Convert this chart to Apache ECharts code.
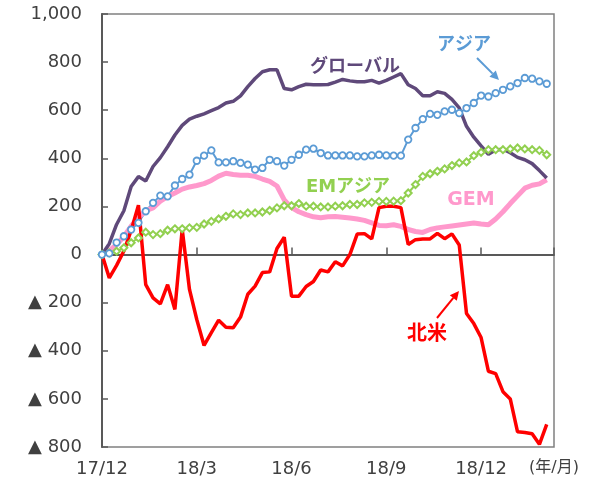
<!DOCTYPE html>
<html>
<head>
<meta charset="utf-8" />
<title>地域別 累積フロー</title>
<script src="https://cdn.jsdelivr.net/npm/echarts@6/dist/echarts.min.js"></script>
<style>
	body { margin: 0; background: #fff; }
	#main { width: 600px; height: 488px; }
</style>
</head>
<body>
<div id="main"></div>
<script type="text/javascript">
// 週次データ（17/12 起点、0 = 基準週）
var tickLabels = ['17/12', '18/3', '18/6', '18/9', '18/12'];
var weeksPerTick = 13;
var lastWeek = 62;
var unitLabel = '(年/月)';

var globalData = [0,45,125,182,283,324,306,366,403,448,497,537,563,575,585,598,611,630,637,660,698,732,760,768,768,690,685,698,708,706,706,707,717,728,722,718,718,724,713,724,738,752,706,690,660,660,677,670,645,610,533,488,452,417,435,438,423,404,394,378,349,318];
var asiaData = [0,5,50,76,104,132,180,215,245,242,287,314,332,390,411,433,383,383,388,381,374,353,360,394,388,370,394,415,436,440,422,412,412,412,412,408,408,412,415,412,411,411,478,526,563,585,581,595,602,588,609,630,661,657,671,685,699,713,734,731,720,710];
var emAsiaData = [0,7,14,28,49,69,93,83,87,101,107,107,111,113,127,138,148,159,169,166,173,173,177,183,194,203,203,212,201,201,198,198,201,203,208,208,215,217,221,221,222,224,256,291,325,336,346,356,370,381,385,411,425,436,436,436,439,443,439,436,433,415];
var gemData = [0,15,42,75,118,155,182,194,222,241,256,272,281,287,295,308,326,338,333,330,330,325,314,304,285,227,195,178,166,157,153,157,158,155,152,148,142,132,121,120,124,117,104,96,92,104,111,115,119,123,127,131,127,124,148,178,212,244,276,288,294,311];
var naData = [0,-97,-45,15,100,205,-125,-180,-205,-125,-228,105,-145,-270,-378,-325,-273,-302,-304,-260,-165,-131,-75,-72,25,72,-173,-173,-133,-112,-64,-72,-30,-47,0,85,87,65,195,201,201,195,42,62,65,65,88,66,86,40,-245,-287,-345,-485,-495,-570,-600,-737,-740,-745,-789,-706];

function pairs(arr) {
	return arr.map(function (v, i) { return [i, v]; });
}

function xLabel(v) {
	if (v === lastWeek) return '{u|' + unitLabel + '}';
	if (v % weeksPerTick === 0) return tickLabels[v / weeksPerTick] || '';
	return '';
}

function yLabel(v) {
	if (v < 0) return '▲ ' + Math.abs(v);
	return v.toLocaleString('en-US');
}

function arrow(x1, y1, x2, y2, color) {
	var a = Math.atan2(y2 - y1, x2 - x1), L = 9, W = 4.5;
	var bx = x2 - L * Math.cos(a), by = y2 - L * Math.sin(a);
	var px = -Math.sin(a) * W, py = Math.cos(a) * W;
	return [
		{ type: 'line', shape: { x1: x1, y1: y1, x2: bx, y2: by }, style: { stroke: color, lineWidth: 2 } },
		{ type: 'polygon', shape: { points: [[x2, y2], [bx + px, by + py], [bx - px, by - py]] }, style: { fill: color } }
	];
}

function label(text, x, y, color, size) {
	return {
		type: 'text', x: x, y: y,
		style: {
			text: text, fill: color,
			font: 'bold ' + size + 'px "DejaVu Sans", "Noto Sans CJK JP"',
			textAlign: 'center', textVerticalAlign: 'middle',
			align: 'center', verticalAlign: 'middle'
		}
	};
}

var axisFont = '"DejaVu Sans", "Noto Sans CJK JP", sans-serif';
var myChart = echarts.init(document.getElementById('main'));

var option = {
	animation: false,
	grid: {
		left: 102, right: 46, top: 14, bottom: 41,
		show: true, borderColor: '#808080', borderWidth: 1.5, backgroundColor: 'transparent'
	},
	xAxis: [
		{
			type: 'value', min: 0, max: lastWeek, interval: weeksPerTick,
			axisLine: { onZero: true, lineStyle: { color: '#595959', width: 2 } },
			axisTick: { inside: true, length: 7, lineStyle: { color: '#595959', width: 1.5 } },
			axisLabel: { show: false },
			splitLine: { show: false }
		},
		{
			type: 'value', min: 0, max: lastWeek, interval: weeksPerTick, position: 'bottom',
			axisLine: { show: false, onZero: false },
			axisTick: { show: false },
			axisLabel: {
				color: '#404040', fontSize: 18, fontFamily: axisFont, margin: 13,
				showMaxLabel: true, showMinLabel: true,
				formatter: xLabel,
				rich: { u: { fontSize: 16, color: '#404040', fontFamily: axisFont } }
			},
			splitLine: { show: false }
		}
	],
	yAxis: {
		type: 'value', min: -800, max: 1000, interval: 200,
		axisLine: { show: true, onZero: false, lineStyle: { color: '#595959', width: 2 } },
		axisTick: { show: true, inside: true, length: 6, lineStyle: { color: '#595959', width: 1.5 } },
		axisLabel: { color: '#404040', fontSize: 18, fontFamily: axisFont, margin: 20, formatter: yLabel },
		splitLine: { show: false }
	},
	series: [
		{
			name: 'EMアジア', type: 'line', data: pairs(emAsiaData),
			symbol: 'diamond', symbolSize: 7, showAllSymbol: true,
			lineStyle: { color: '#92d050', width: 2 },
			itemStyle: { color: '#fff', borderColor: '#92d050', borderWidth: 2 }
		},
		{
			name: 'アジア', type: 'line', data: pairs(asiaData),
			symbol: 'circle', symbolSize: 6.5, showAllSymbol: true,
			lineStyle: { color: '#5b9bd5', width: 2 },
			itemStyle: { color: '#fff', borderColor: '#5b9bd5', borderWidth: 1.8 }
		},
		{
			name: 'GEM', type: 'line', data: pairs(gemData), symbol: 'none',
			lineStyle: { color: '#ff99cc', width: 5 }
		},
		{
			name: 'グローバル', type: 'line', data: pairs(globalData), symbol: 'none',
			lineStyle: { color: '#5f497a', width: 3.5 }
		},
		{
			name: '北米', type: 'line', data: pairs(naData), symbol: 'none',
			lineStyle: { color: '#ff0000', width: 3.5 }
		}
	],
	graphic: [
		label('グローバル', 355, 67, '#5f497a', 18),
		label('アジア', 464, 45, '#5b9bd5', 18),
		label('EMアジア', 348, 187, '#92d050', 18),
		label('GEM', 471, 200, '#ff99cc', 19),
		label('北米', 427, 335, '#ff0000', 20)
	].concat(arrow(477, 58, 499, 80, '#5b9bd5'), arrow(437, 318, 459, 291, '#ff0000'))
};

myChart.setOption(option);
</script>
</body>
</html>
